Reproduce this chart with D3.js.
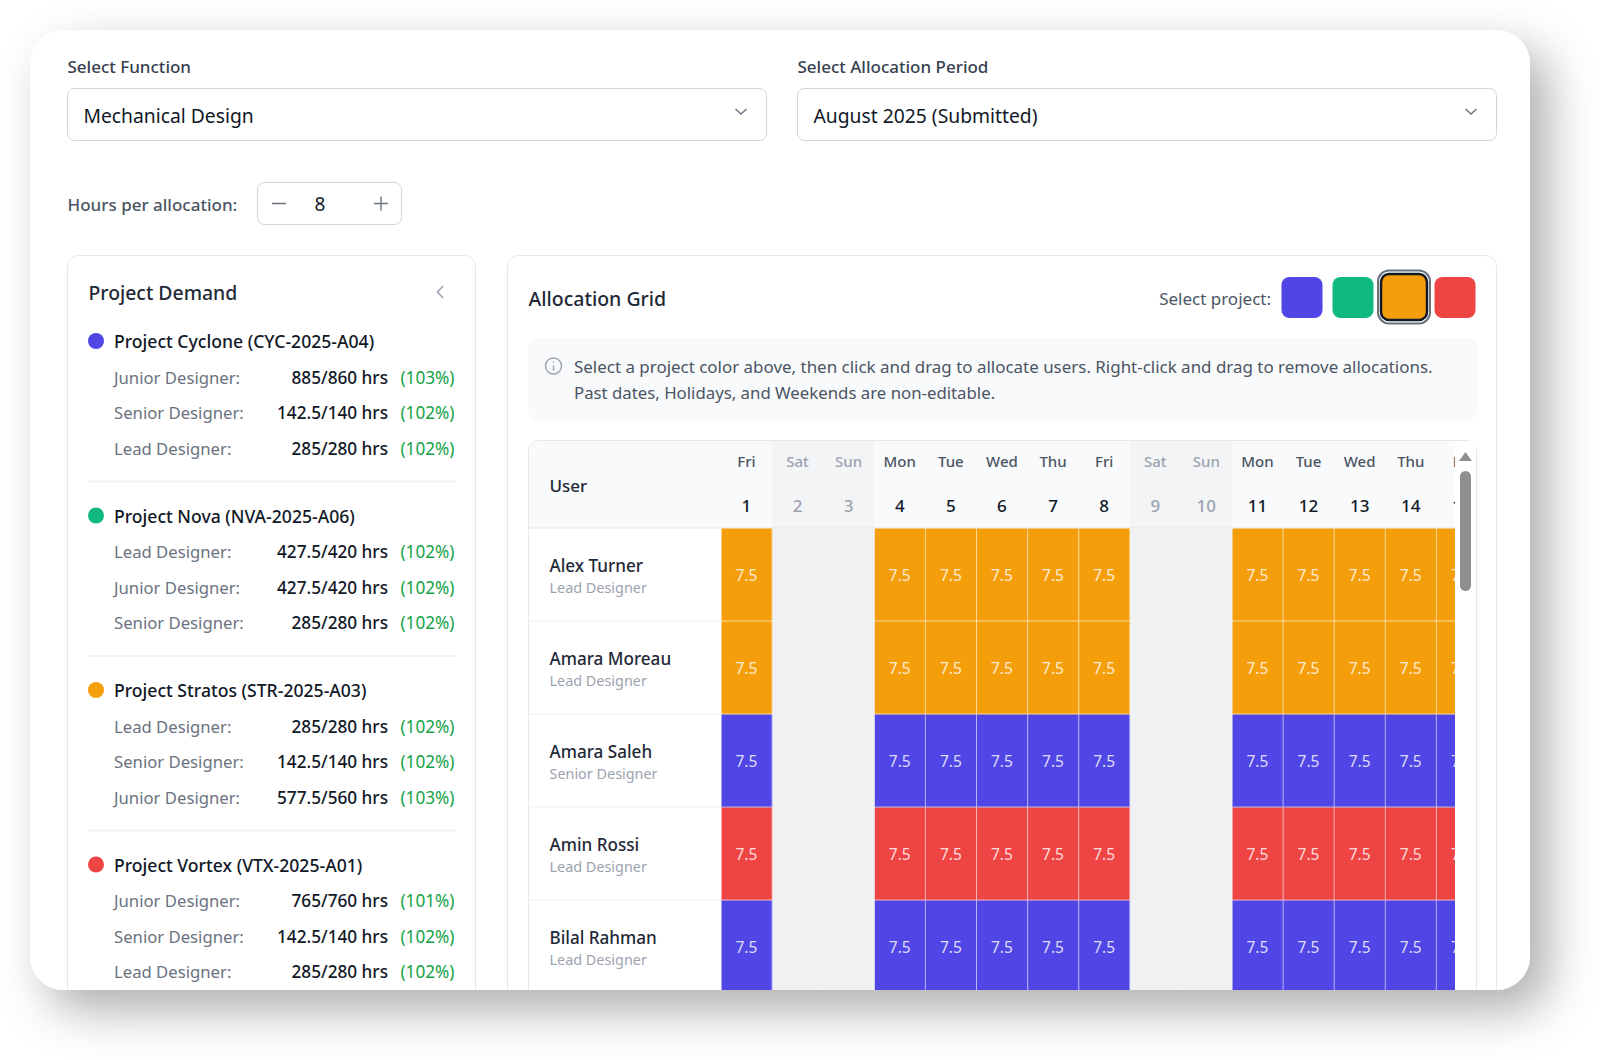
<!DOCTYPE html>
<html>
<head>
<meta charset="utf-8">
<script src="https://d3js.org/d3.v7.min.js"></script>
<style>
  html, body { margin: 0; padding: 0; background: #fff; }
  svg { display: block; }
  text { font-family: "Noto Sans", Inter, sans-serif; }
</style>
</head>
<body>
<div id="chart"></div>
<script>
// grid data
const days = [1, 2, 3, 4, 5, 6, 7, 8, 9, 10, 11, 12, 13, 14, 15]
const weekdays = ['Fri', 'Sat', 'Sun', 'Mon', 'Tue', 'Wed', 'Thu', 'Fri', 'Sat', 'Sun', 'Mon', 'Tue', 'Wed', 'Thu', 'Fri']
const users = ['Alex Turner', 'Amara Moreau', 'Amara Saleh', 'Amin Rossi', 'Bilal Rahman']
const userRoles = ['Lead Designer', 'Lead Designer', 'Senior Designer', 'Lead Designer', 'Lead Designer']
const userProjects = ['Stratos', 'Stratos', 'Cyclone', 'Vortex', 'Cyclone']
const dailyHours = [7.5, 7.5, 7.5, 7.5, 7.5]

// demand panel data
const projects = ['Cyclone', 'Nova', 'Stratos', 'Vortex']
const projectTitles = ['Project Cyclone (CYC-2025-A04)', 'Project Nova (NVA-2025-A06)', 'Project Stratos (STR-2025-A03)', 'Project Vortex (VTX-2025-A01)']
const projectColors = ['#4f46e5', '#10b981', '#f59e0b', '#ef4444']
const demandRoles = [
    ['Junior Designer:', 'Senior Designer:', 'Lead Designer:'],
    ['Lead Designer:', 'Junior Designer:', 'Senior Designer:'],
    ['Lead Designer:', 'Senior Designer:', 'Junior Designer:'],
    ['Junior Designer:', 'Senior Designer:', 'Lead Designer:']
]
const demandHours = [
    ['885/860 hrs', '142.5/140 hrs', '285/280 hrs'],
    ['427.5/420 hrs', '427.5/420 hrs', '285/280 hrs'],
    ['285/280 hrs', '142.5/140 hrs', '577.5/560 hrs'],
    ['765/760 hrs', '142.5/140 hrs', '285/280 hrs']
]
const demandPercents = [
    ['(103%)', '(102%)', '(102%)'],
    ['(102%)', '(102%)', '(102%)'],
    ['(102%)', '(102%)', '(103%)'],
    ['(101%)', '(102%)', '(102%)']
]

const width = 1600
const height = 1060

const svg = d3.select('#chart')
    .append('svg')
    .attr('width', width)
    .attr('height', height)

const defs = svg.append('defs')

const shadow = defs.append('filter')
    .attr('id', 'card-shadow')
    .attr('x', '-10%').attr('y', '-10%')
    .attr('width', '120%').attr('height', '125%')
shadow.append('feDropShadow')
    .attr('dx', 18).attr('dy', 20)
    .attr('stdDeviation', 24)
    .attr('flood-color', '#000')
    .attr('flood-opacity', 0.32)

defs.append('clipPath').attr('id', 'card-clip')
    .append('rect')
    .attr('x', 30).attr('y', 30)
    .attr('width', 1500).attr('height', 960)
    .attr('rx', 34)

defs.append('clipPath').attr('id', 'grid-clip')
    .append('rect')
    .attr('x', 528).attr('y', 440)
    .attr('width', 927).attr('height', 560)

// Card.
svg.append('rect')
    .attr('x', 30).attr('y', 30)
    .attr('width', 1500).attr('height', 960)
    .attr('rx', 34)
    .attr('fill', '#fff')
    .attr('filter', 'url(#card-shadow)')

const card = svg.append('g').attr('clip-path', 'url(#card-clip)')

function addText(parent, x, y, string, size, color, weight = 400, anchor = 'start') {
    return parent.append('text')
        .attr('x', x)
        .attr('y', y)
        .attr('dy', '0.36em')
        .attr('text-anchor', anchor)
        .attr('font-size', size)
        .attr('font-weight', weight)
        .attr('fill', color)
        .text(string)
}

function addBox(parent, x, y, w, h, r, fill, stroke) {
    return parent.append('rect')
        .attr('x', x + 0.5).attr('y', y + 0.5)
        .attr('width', w - 1).attr('height', h - 1)
        .attr('rx', r)
        .attr('fill', fill)
        .attr('stroke', stroke)
}

// Selects.
function addSelect(x, w, label, value) {
    addText(card, x + 0.5, 66.5, label, 17, '#374151', 500)
    addBox(card, x, 88, w, 53, 7, '#fff', '#d1d5db')
    addText(card, x + 16.5, 116, value, 19.3, '#111827')
    const cx = x + w - 26
    card.append('path')
        .attr('d', `M${cx - 5.5},109 L${cx},114 L${cx + 5.5},109`)
        .attr('fill', 'none')
        .attr('stroke', '#6b7280')
        .attr('stroke-width', 1.4)
}
addSelect(67, 700, 'Select Function', 'Mechanical Design')
addSelect(797, 700, 'Select Allocation Period', 'August 2025 (Submitted)')

// Stepper.
addText(card, 67.5, 204.5, 'Hours per allocation:', 17, '#4b5563', 500)
addBox(card, 257, 182, 145, 43, 7, '#fff', '#d1d5db')
addText(card, 320, 204.5, '8', 19, '#111827', 400, 'middle')
card.append('path')
    .attr('d', 'M272,203.5H286 M374,203.5H388 M381,196.5V210.5')
    .attr('stroke', '#6b7280')
    .attr('stroke-width', 1.4)

// Project Demand panel.
addBox(card, 67, 255, 409, 780, 11, '#fff', '#e5e7eb')
addText(card, 88.5, 293, 'Project Demand', 19.4, '#1f2937', 500)
card.append('path')
    .attr('d', 'M443,286 L437.5,292 L443,298')
    .attr('fill', 'none')
    .attr('stroke', '#9ca3af')
    .attr('stroke-width', 1.6)

const blockY = d3.scaleBand()
    .domain(projects)
    .range([342, 342 + 174.5 * projects.length])

const projectColor = d3.scaleOrdinal()
    .domain(projects)
    .range(projectColors)

const blocks = card.selectAll('.project')
    .data(projects)
    .enter()
    .append('g')
    .attr('class', 'project')
    .attr('transform', d => `translate(0, ${blockY(d)})`)

blocks.append('circle')
    .attr('cx', 96).attr('cy', -1)
    .attr('r', 8)
    .attr('fill', d => projectColor(d))

blocks.append('text')
    .attr('x', 114).attr('dy', '0.36em')
    .attr('font-size', 17.6)
    .attr('font-weight', 500)
    .attr('fill', '#111827')
    .text((d, i) => projectTitles[i])

blocks.filter((d, i) => i < projects.length - 1)
    .append('line')
    .attr('x1', 88).attr('x2', 456)
    .attr('y1', 139.5).attr('y2', 139.5)
    .attr('stroke', '#f0f1f3')
    .attr('stroke-width', 2)

const rowY = d3.scalePoint()
    .domain([0, 1, 2])
    .range([36, 107])

blocks.each(function (d, i) {
    const block = d3.select(this)
    demandRoles[i].forEach((role, r) => {
        addText(block, 114, rowY(r) - 0.3, role, 16.7, '#6b7280')
        addText(block, 388, rowY(r) - 0.3, demandHours[i][r], 17.2, '#111827', 500, 'end')
        addText(block, 454.5, rowY(r) - 0.3, demandPercents[i][r], 17.2, '#16a34a', 400, 'end')
    })
})

// Allocation Grid panel.
addBox(card, 507, 255, 990, 780, 11, '#fff', '#e5e7eb')
addText(card, 528.5, 298.5, 'Allocation Grid', 19.5, '#1f2937', 500)
addText(card, 1271, 298.5, 'Select project:', 17, '#4b5563', 400, 'end')

const swatchX = d3.scalePoint()
    .domain(projects)
    .range([1302, 1455])

const swatches = card.selectAll('.swatch')
    .data(projects)
    .enter()
    .append('g')
    .attr('class', 'swatch')

swatches.filter(d => d === 'Stratos')
    .append('rect')
    .attr('x', d => swatchX(d) - 26)
    .attr('y', 270.5)
    .attr('width', 52).attr('height', 53)
    .attr('rx', 11)
    .attr('fill', '#fff')
    .attr('stroke', '#6b7280')
    .attr('stroke-width', 2)

swatches.append('rect')
    .attr('x', d => swatchX(d) - (d === 'Stratos' ? 23 : 20.5))
    .attr('y', d => (d === 'Stratos' ? 274 : 277))
    .attr('width', d => (d === 'Stratos' ? 46 : 41))
    .attr('height', d => (d === 'Stratos' ? 46 : 41))
    .attr('rx', 8)
    .attr('fill', d => projectColor(d))
    .attr('stroke', d => (d === 'Stratos' ? '#111827' : 'none'))
    .attr('stroke-width', 2.5)

// Info box.
addBox(card, 528, 338, 949, 83, 9, '#f9fafb', '#f9fafb')
card.append('circle')
    .attr('cx', 553.5).attr('cy', 366)
    .attr('r', 8)
    .attr('fill', 'none')
    .attr('stroke', '#9ca3af')
    .attr('stroke-width', 1.4)
card.append('path')
    .attr('d', 'M553.5,365.5V370.5 M553.5,361.5V362.8')
    .attr('stroke', '#9ca3af')
    .attr('stroke-width', 1.5)
addText(card, 574, 367, 'Select a project color above, then click and drag to allocate users. Right-click and drag to remove allocations.', 16.95, '#4b5563')
addText(card, 574, 393, 'Past dates, Holidays, and Weekends are non-editable.', 16.8, '#4b5563')

// Grid scales.
const dayStep = 51.1
const xScale = d3.scaleBand()
    .domain(days)
    .range([721.5, 721.5 + dayStep * days.length])

const yScale = d3.scaleBand()
    .domain(users)
    .range([528.5, 528.5 + 93 * users.length])

const dayCenter = d => xScale(d) + xScale.bandwidth() / 2 - 0.6
const isWeekend = i => weekdays[i] === 'Sat' || weekdays[i] === 'Sun'

// Table frame.
addBox(card, 528, 440, 949, 620, 9, '#fff', '#e5e7eb')

const grid = card.append('g').attr('clip-path', 'url(#grid-clip)')

// Header.
grid.append('path')
    .attr('d', 'M529,528 V449 Q529,441 537,441 H1455 V528 Z')
    .attr('fill', '#f9fafb')

addText(grid, 549.5, 486, 'User', 17, '#1f2937', 500)

grid.selectAll('.weekend-head')
    .data(days.filter((d, i) => isWeekend(i)))
    .enter()
    .append('rect')
    .attr('class', 'weekend-head')
    .attr('x', d => xScale(d))
    .attr('y', 441)
    .attr('width', xScale.bandwidth())
    .attr('height', 87)
    .attr('fill', '#f3f4f6')

grid.selectAll('.weekday')
    .data(days)
    .enter()
    .append('text')
    .attr('class', 'weekday')
    .attr('x', dayCenter)
    .attr('y', 462)
    .attr('dy', '0.36em')
    .attr('text-anchor', 'middle')
    .attr('font-size', 15)
    .attr('font-weight', 500)
    .attr('fill', (d, i) => (isWeekend(i) ? '#9ca3af' : '#4b5563'))
    .text((d, i) => weekdays[i])

grid.selectAll('.day')
    .data(days)
    .enter()
    .append('text')
    .attr('class', 'day')
    .attr('x', dayCenter)
    .attr('y', 506)
    .attr('dy', '0.36em')
    .attr('text-anchor', 'middle')
    .attr('font-size', 17)
    .attr('font-weight', 500)
    .attr('fill', (d, i) => (isWeekend(i) ? '#9ca3af' : '#111827'))
    .text(d => d)

grid.append('line')
    .attr('x1', 528).attr('x2', 1455)
    .attr('y1', 528).attr('y2', 528)
    .attr('stroke', '#e5e7eb')

// Rows.
const rows = grid.selectAll('.row')
    .data(users)
    .enter()
    .append('g')
    .attr('class', 'row')
    .attr('transform', d => `translate(0, ${yScale(d)})`)

rows.append('text')
    .attr('x', 549.5).attr('y', 37.5)
    .attr('dy', '0.36em')
    .attr('font-size', 17.1)
    .attr('font-weight', 500)
    .attr('fill', '#1f2937')
    .text(d => d)

rows.append('text')
    .attr('x', 549.5).attr('y', 59.5)
    .attr('dy', '0.36em')
    .attr('font-size', 14.4)
    .attr('fill', '#9ca3af')
    .text((d, i) => userRoles[i])

rows.append('line')
    .attr('x1', 528).attr('x2', 721)
    .attr('y1', 92.5).attr('y2', 92.5)
    .attr('stroke', '#eceef0')

rows.each(function (user, u) {
    const row = d3.select(this)
    const cells = row.selectAll('.cell')
        .data(days)
        .enter()
        .append('g')
        .attr('class', 'cell')

    cells.append('rect')
        .attr('x', d => xScale(d))
        .attr('y', 0)
        .attr('width', xScale.bandwidth())
        .attr('height', yScale.bandwidth())
        .attr('fill', (d, i) => (isWeekend(i) ? '#f0f1f3' : projectColor(userProjects[u])))

    cells.filter((d, i) => !isWeekend(i))
        .append('path')
        .attr('d', d => {
            const x = xScale(d)
            return `M${x + xScale.bandwidth() - 0.5},0 V${yScale.bandwidth()} M${x},${yScale.bandwidth() - 0.5} H${x + xScale.bandwidth()}`
        })
        .attr('fill', 'none')
        .attr('stroke', 'rgba(255,255,255,0.6)')

    cells.filter((d, i) => !isWeekend(i))
        .append('text')
        .attr('x', dayCenter)
        .attr('y', yScale.bandwidth() / 2)
        .attr('dy', '0.36em')
        .attr('text-anchor', 'middle')
        .attr('font-size', 15.5)
        .attr('fill', 'rgba(255,255,255,0.82)')
        .text(dailyHours[u])
})

// Scrollbar.
card.append('rect')
    .attr('x', 1456).attr('y', 441)
    .attr('width', 20).attr('height', 560)
    .attr('fill', '#fff')
card.append('path')
    .attr('d', 'M1465.5,452 L1472,461 H1459 Z')
    .attr('fill', '#8f8f8f')
card.append('rect')
    .attr('x', 1460).attr('y', 471)
    .attr('width', 11).attr('height', 120)
    .attr('rx', 5.5)
    .attr('fill', '#8f8f8f')
</script>
</body>
</html>
